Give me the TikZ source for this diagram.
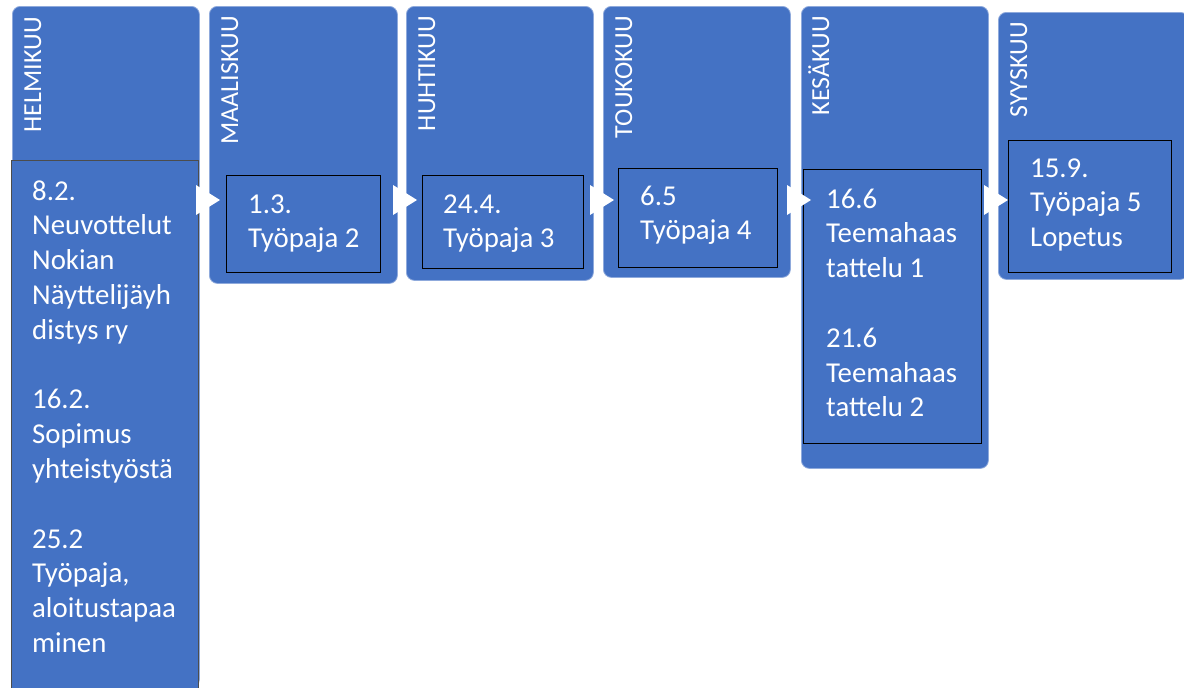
\documentclass[tikz,border=0pt]{standalone}
\usepackage{fontspec}
\setmainfont{Carlito}
\definecolor{boxblue}{HTML}{4472C4}
\definecolor{edgeblue}{HTML}{8FAADC}
\begin{document}
\begin{tikzpicture}[x=1pt,y=-1pt,
  outerbox/.style={draw=edgeblue,line width=0.8pt,fill=boxblue,rounded corners=8pt,anchor=north west,inner sep=0pt},
  innerbox/.style={draw=black,line width=0.9pt,fill=boxblue,anchor=north west,inner sep=0pt},
  lbl/.style={rotate=90,anchor=base east,inner sep=0pt,text=white,font=\fontsize{26}{31}\selectfont},
  txt/.style={anchor=base west,inner sep=0pt,text=white,font=\fontsize{28.8}{34.8}\selectfont},
  chev/.style={fill=white,draw=none}]
\useasboundingbox (0,0) rectangle (1184,688);
\clip (0,0) rectangle (1184,688);
% outer boxes
\node[outerbox,minimum width=187pt,minimum height=681pt] (o1) at (12,6) {};
\node[outerbox,minimum width=188pt,minimum height=277pt] (o2) at (209,6) {};
\node[outerbox,minimum width=187pt,minimum height=274pt] (o3) at (406,6) {};
\node[outerbox,minimum width=187pt,minimum height=271pt] (o4) at (603,6) {};
\node[outerbox,minimum width=187pt,minimum height=462pt] (o5) at (801,6) {};
\node[outerbox,minimum width=190pt,minimum height=267pt] (o6) at (998,12) {};
% inner boxes
\node[innerbox,draw=black!70,minimum width=187pt,minimum height=540pt] (i1) at (11,160) {};
\node[innerbox,minimum width=154pt,minimum height=97pt] (i2) at (226,175) {};
\node[innerbox,minimum width=161pt,minimum height=93pt] (i3) at (422,175) {};
\node[innerbox,minimum width=159pt,minimum height=99pt] (i4) at (618,168) {};
\node[innerbox,minimum width=178pt,minimum height=274pt] (i5) at (803,169) {};
\node[innerbox,minimum width=163pt,minimum height=132pt] (i6) at (1008,140) {};
% chevrons
\path[chev] (196,185) -- (220,200) -- (196,215) -- cycle;
\path[chev] (393,185) -- (417,200) -- (393,215) -- cycle;
\path[chev] (590,185) -- (614,200) -- (590,215) -- cycle;
\path[chev] (787,185) -- (811,200) -- (787,215) -- cycle;
\path[chev] (984,185) -- (1008,200) -- (984,215) -- cycle;
% month labels
\node[lbl] (l1) at (41,17) {HELMIKUU};
\node[lbl] (l2) at (238,16) {MAALISKUU};
\node[lbl] (l3) at (435,16) {HUHTIKUU};
\node[lbl] (l4) at (632,16) {TOUKOKUU};
\node[lbl] (l5) at (829,16) {KESÄKUU};
\node[lbl] (l6) at (1027,22) {SYYSKUU};
% texts
\node[txt] (t1) at (32,200) {\parbox[t]{170pt}{8.2.\\Neuvottelut\\Nokian\\Näyttelijäyh\\distys ry\\[34.8pt]16.2.\\Sopimus\\yhteistyöstä\\[34.8pt]25.2\\Työpaja,\\aloitustapaa\\minen}};
\node[txt] (t2) at (248,213) {\parbox[t]{130pt}{1.3.\\Työpaja 2}};
\node[txt] (t3) at (443,213) {\parbox[t]{130pt}{24.4.\\Työpaja 3}};
\node[txt] (t4) at (640,205) {\parbox[t]{130pt}{6.5\\Työpaja 4}};
\node[txt] (t5) at (826,208) {\parbox[t]{150pt}{16.6\\Teemahaas\\tattelu 1\\[34.8pt]21.6\\Teemahaas\\tattelu 2}};
\node[txt] (t6) at (1030,177) {\parbox[t]{140pt}{15.9.\\Työpaja 5\\Lopetus}};
\end{tikzpicture}
\end{document}
